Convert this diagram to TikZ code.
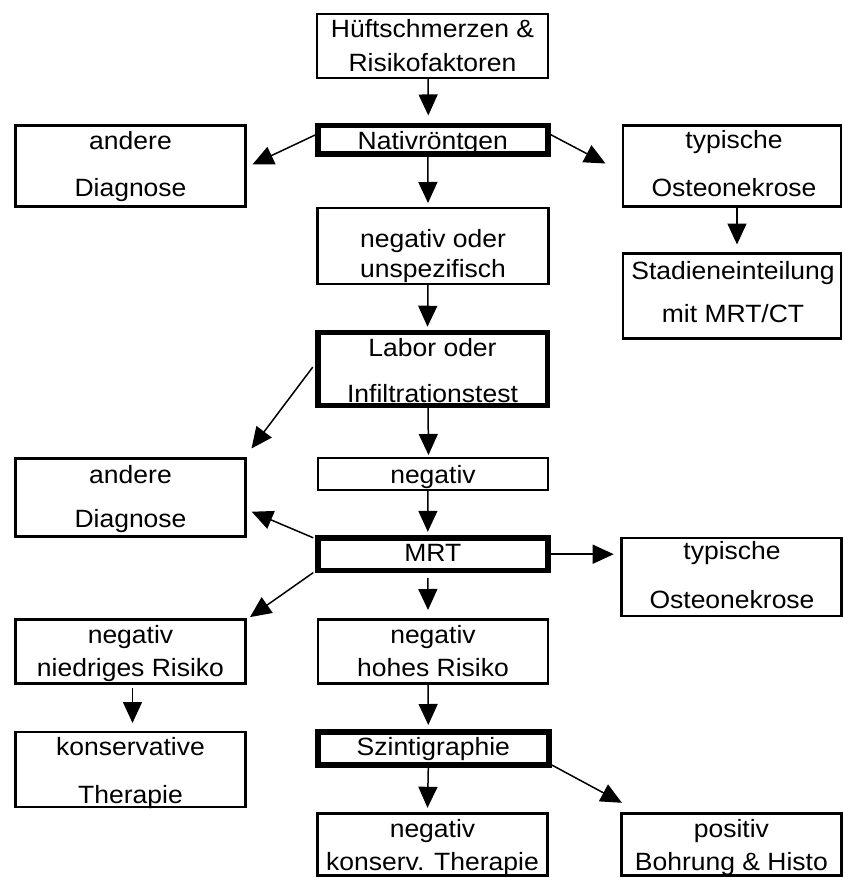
\documentclass[tikz,border=0pt]{standalone}
\usepackage{fontspec}
\setmainfont[FakeStretch=1.06]{Liberation Sans}
\usetikzlibrary{arrows.meta,calc}
\begin{document}
\begin{tikzpicture}[x=1pt,y=-1pt,
  box/.style={draw, rectangle, line width=2.8pt, outer sep=0pt, inner sep=0pt},
  thickbox/.style={box, line width=5.5pt},
  txt/.style={anchor=base, inner sep=0pt, outer sep=0pt, font=\fontsize{25}{30}\selectfont},
  arr/.style={line width=1.5pt, -{Triangle[length=21pt,width=19pt]}}]
\useasboundingbox (0,0) rectangle (844,878);

% boxes
\node[box, minimum width=231pt, minimum height=64pt] (b1) at (432.5,46) {};
\node[thickbox, minimum width=230pt, minimum height=28.5pt] (b2) at (432.8,139.7) {};
\node[box, minimum width=230pt, minimum height=81pt] (b3) at (130.5,166) {};
\node[box, minimum width=218pt, minimum height=81pt] (b4) at (732,166) {};
\node[box, minimum width=231pt, minimum height=76pt] (b5) at (433,246) {};
\node[box, minimum width=218pt, minimum height=85pt] (b6) at (732,296) {};
\node[thickbox, minimum width=229.5pt, minimum height=72.75pt] (b7) at (432.5,369.1) {};
\node[box, minimum width=230pt, minimum height=78pt] (b8) at (130.5,497.2) {};
\node[box, minimum width=230pt, minimum height=32pt] (b9) at (433,474) {};
\node[thickbox, minimum width=230pt, minimum height=32.8pt] (b10) at (432.8,554.2) {};
\node[box, minimum width=220pt, minimum height=78pt] (b11) at (731.4,577) {};
\node[box, minimum width=230pt, minimum height=64pt] (b12) at (130.5,651.6) {};
\node[box, minimum width=230pt, minimum height=64pt] (b13) at (433,651.6) {};
\node[box, minimum width=230pt, minimum height=75pt] (b14) at (130.5,769.5) {};
\node[thickbox, minimum width=231pt, minimum height=33pt] (b15) at (433.3,748.5) {};
\node[box, minimum width=230pt, minimum height=62pt] (b16) at (432.5,844.8) {};
\node[box, minimum width=220pt, minimum height=62pt] (b17) at (731.4,844.8) {};

% texts
\node[txt] (t1a) at (432.5,37) {Hüftschmerzen \&};
\node[txt] (t1b) at (432.5,71) {Risikofaktoren};
\node[txt] (t2) at (432.8,149) {Nativröntgen};
\node[txt] (t3a) at (130.5,149) {andere};
\node[txt] (t3b) at (130.5,196) {Diagnose};
\node[txt] (t4a) at (734,148) {typische};
\node[txt] (t4b) at (734,196) {Osteonekrose};
\node[txt] (t5a) at (433,247) {negativ oder};
\node[txt] (t5b) at (433,277) {unspezifisch};
\node[txt] (t6a) at (733,279) {Stadieneinteilung};
\node[txt] (t6b) at (733,322) {mit MRT/CT};
\node[txt] (t7a) at (432.5,356) {Labor oder};
\node[txt] (t7b) at (432.5,402) {Infiltrationstest};
\node[txt] (t8a) at (130.5,483) {andere};
\node[txt] (t8b) at (130.5,527) {Diagnose};
\node[txt] (t9) at (433,483) {negativ};
\node[txt] (t10) at (432.8,561) {MRT};
\node[txt] (t11a) at (732,559) {typische};
\node[txt] (t11b) at (732,608) {Osteonekrose};
\node[txt] (t12a) at (130.5,643) {negativ};
\node[txt] (t12b) at (130.5,676) {niedriges Risiko};
\node[txt] (t13a) at (433,643) {negativ};
\node[txt] (t13b) at (433,676) {hohes Risiko};
\node[txt] (t14a) at (130.5,755) {konservative};
\node[txt] (t14b) at (130.5,803) {Therapie};
\node[txt] (t15) at (433.3,755) {Szintigraphie};
\node[txt] (t16a) at (432.5,837) {negativ};
\node[txt] (t16b) at (432.5,870) {konserv. Therapie};
\node[txt] (t17a) at (731.4,837) {positiv};
\node[txt] (t17b) at (731.4,870) {Bohrung \& Histo};

% vertical arrows
\draw[arr] ([xshift=-4.5pt]b1.south) -- ([xshift=-4.5pt,yshift=10pt]b2.north);
\draw[arr] ([xshift=-5pt]b2.south) -- ([xshift=-5pt,yshift=5pt]b5.north);
\draw[arr] ([xshift=-5pt]b5.south) -- ([xshift=-5pt,yshift=6pt]b7.north);
\draw[arr] ([xshift=-4.5pt]b7.south) -- ([xshift=-4.5pt,yshift=3pt]b9.north);
\draw[arr] ([xshift=-5pt]b9.south) -- ([xshift=-5pt,yshift=6pt]b10.north);
\draw[arr] ([xshift=-5pt,yshift=-7.5pt]b10.south) -- ([xshift=-5pt,yshift=9.6pt]b13.north);
\draw[arr] ([xshift=-5pt]b13.south) -- ([xshift=-5pt,yshift=7pt]b15.north);
\draw[arr] ([xshift=2pt,yshift=-4pt]b12.south) -- ([xshift=2pt,yshift=9pt]b14.north);
\draw[arr] ([xshift=-5pt,yshift=-3pt]b15.south) -- ([xshift=-5pt,yshift=6pt]b16.north);
\draw[arr] ([xshift=5pt]b4.south) -- ([xshift=5pt,yshift=9pt]b6.north);

% diagonal and horizontal arrows
\draw[arr] ($(b2.west)+(-2,-5)$) -- ($(b3.north east)+(7,39)$);
\draw[arr] ($(b2.east)+(3,-5)$) -- ($(b4.north west)+(-17.5,38)$);
\draw[arr] ($(b7.west)+(-5,-2)$) -- ($(b8.north east)+(6,-9.7)$);
\draw[arr] ($(b10.north west)+(-4.5,0)$) -- ($(b8.east)+(6.2,14.5)$);
\draw[arr, shorten >=7.7pt] (b10.east) -- (b10.east -| b11.west);
\draw[arr] ($(b10.south west)+(-4.5,2)$) -- ($(b12.north east)+(4.5,-2.5)$);
\draw[arr] ($(b15.south east)+(3,0)$) -- ($(b17.north west)+(0.5,-11)$);
\end{tikzpicture}
\end{document}
